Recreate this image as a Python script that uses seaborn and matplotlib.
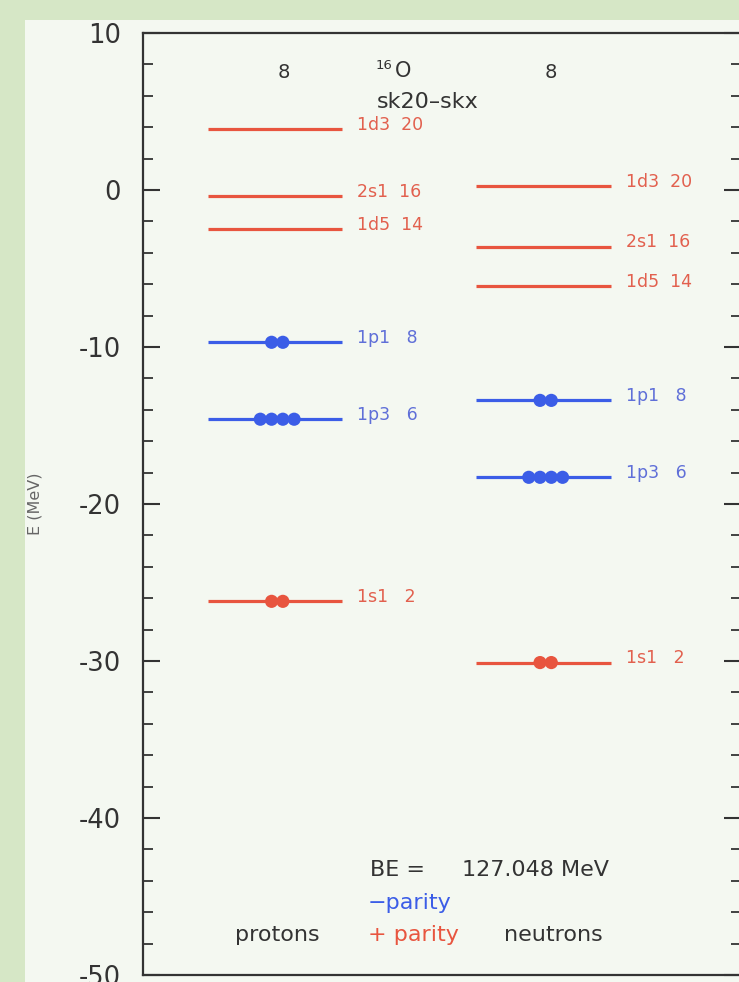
import matplotlib
matplotlib.use("Agg")
import matplotlib.pyplot as plt
import seaborn as sns
import pandas as pd
import numpy as np
from matplotlib.patches import Rectangle

# ---------------- data ----------------
orbits = ["1s1", "1p3", "1p1", "1d5", "2s1", "1d3"]
capacity = [2, 6, 8, 14, 16, 20]
parity = ["+", "-", "-", "+", "+", "+"]
proton_energy = [-26.2, -14.6, -9.7, -2.5, -0.4, 3.9]
neutron_energy = [-30.1, -18.3, -13.4, -6.1, -3.6, 0.25]
proton_occ = [2, 4, 2, 0, 0, 0]
neutron_occ = [2, 4, 2, 0, 0, 0]
n_protons = 8
n_neutrons = 8
nucleus_A = "16"
nucleus_sym = "O"
interaction = "sk20\u2013skx"
binding_energy = 127.048
yticks = [10, 0, -10, -20, -30, -40, -50]

# ---------------- style ----------------
GREEN = "#d6e7c6"
PANEL = "#f4f8f1"
RED_LINE = "#e8553f"
BLUE_LINE = "#3b5de7"
RED_TXT = "#e2604e"
BLUE_TXT = "#5f6fd8"
DARK = "#333333"

sns.set_theme(style="ticks")
plt.rcParams["font.family"] = ["DejaVu Sans"]
plt.rcParams["axes.unicode_minus"] = False

W, H = 739, 982
fig = plt.figure(figsize=(W / 100, H / 100), dpi=100, facecolor=GREEN)
panel = Rectangle((25 / W, 0), 1, 1 - 20 / H, transform=fig.transFigure,
                  facecolor=PANEL, edgecolor="none", zorder=-10)
fig.add_artist(panel)

ax = fig.add_axes([143 / W, 7 / H, (741 - 143) / W, (975 - 33) / H])
ax.set_zorder(1)
ax.set_facecolor(PANEL)

# x layout: column centres at 1 (protons) and 2 (neutrons)
half = 0.25
col_x = {"protons": 1.0, "neutrons": 2.0}

rows = []
for side, energies, occ in (("protons", proton_energy, proton_occ),
                            ("neutrons", neutron_energy, neutron_occ)):
    for o, c, p, e, k in zip(orbits, capacity, parity, energies, occ):
        rows.append(dict(side=side, orbit=o, cap=c, parity=p, E=e, occ=k))
df = pd.DataFrame(rows)

# levels
for _, r in df.iterrows():
    cx = col_x[r.side]
    lc = RED_LINE if r.parity == "+" else BLUE_LINE
    tc = RED_TXT if r.parity == "+" else BLUE_TXT
    ax.hlines(r.E, cx - half, cx + half, color=lc, lw=2.3, zorder=2)
    ax.annotate(f"{r.orbit}  {r.cap:>2}", (cx + half, r.E), xytext=(11, 3),
                textcoords="offset points", ha="left", va="center",
                fontsize=12.5, color=tc)

# occupation dots
dots = []
for _, r in df.iterrows():
    if r.occ > 0:
        cx = col_x[r.side] + 0.008
        sp = 0.042
        for i in range(int(r.occ)):
            dots.append(dict(x=cx + (i - (r.occ - 1) / 2) * sp, E=r.E, parity=r.parity))
ddf = pd.DataFrame(dots)
sns.scatterplot(data=ddf, x="x", y="E", hue="parity",
                palette={"+": RED_LINE, "-": BLUE_LINE}, s=90, edgecolor="none",
                legend=False, ax=ax, zorder=3)

# axes limits and ticks
ax.set_xlim(0.508, 2.7356)
ax.set_ylim(-50, 10)
ax.set_yticks(yticks)
ax.set_yticks(np.arange(-50, 10, 2), minor=True)
ax.tick_params(axis="y", which="major", direction="in", length=12, width=1.5,
               color=DARK, labelsize=18.5, labelcolor=DARK, pad=16,
               left=True, right=True)
ax.tick_params(axis="y", which="minor", direction="in", length=7, width=1.3,
               color=DARK, left=True, right=True)
ax.tick_params(axis="x", which="both", bottom=False, top=False, labelbottom=False)
ax.set_xlabel("")
ax.set_ylabel("E (MeV)", fontsize=11.5, color="#666666")
ax.yaxis.set_label_coords((42 - 143) / 598, 0.5)
for s in ax.spines.values():
    s.set_color(DARK)
    s.set_linewidth(1.6)

# header texts
ax.text(1.033, 7.5, str(n_protons), ha="center", va="center", fontsize=14, color=DARK)
ax.text(2.028, 7.5, str(n_neutrons), ha="center", va="center", fontsize=14, color=DARK)
ax.text(1.375, 7.95, nucleus_A, ha="left", va="center", fontsize=9.5, color=DARK)
ax.text(1.447, 7.55, nucleus_sym, ha="left", va="center", fontsize=15, color=DARK)
ax.text(1.379, 5.6, interaction, ha="left", va="center", fontsize=16, color=DARK)

# footer texts
ax.text(1.353, -43.3, "BE =", ha="left", va="center", fontsize=16, color=DARK)
ax.text(1.696, -43.3, f"{binding_energy:.3f} MeV", ha="left", va="center",
        fontsize=16, color=DARK)
ax.text(1.346, -45.4, "\u2212parity", ha="left", va="center", fontsize=16, color=BLUE_LINE)
ax.text(1.346, -47.45, "+ parity", ha="left", va="center", fontsize=16, color=RED_LINE)
ax.text(0.851, -47.45, "protons", ha="left", va="center", fontsize=16, color=DARK)
ax.text(1.852, -47.45, "neutrons", ha="left", va="center", fontsize=16, color=DARK)

fig.savefig("out.png", dpi=100, facecolor=GREEN)
